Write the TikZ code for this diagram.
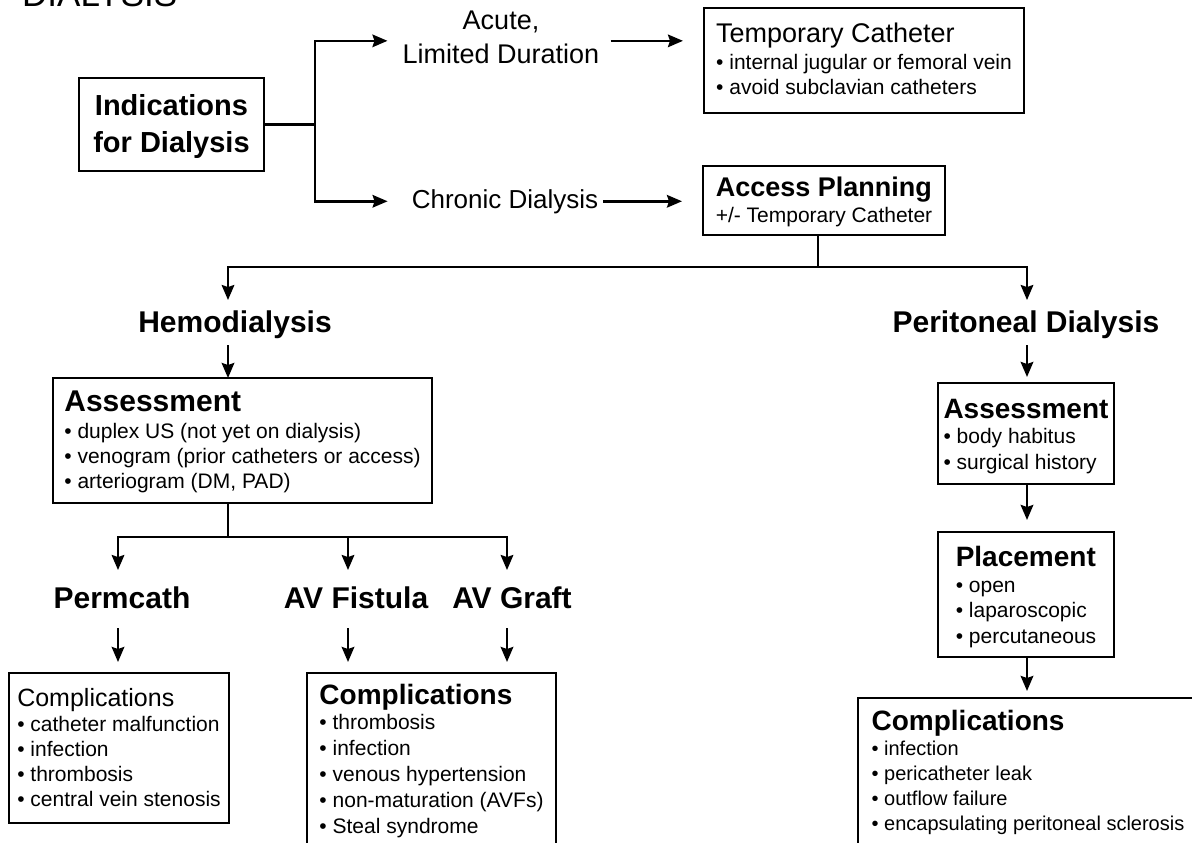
\documentclass[tikz,border=0pt]{standalone}
\usepackage{fontspec}
\setmainfont{Liberation Sans}
\usetikzlibrary{arrows.meta}

\begin{document}
\begin{tikzpicture}[x=1pt,y=-1pt,
  conn/.style={line width=2.7pt},
  arr/.style={line width=2.6pt,-{Stealth[length=15pt,width=12.5pt,inset=2pt]}},
  box/.style={draw,line width=1.8pt,anchor=north west,inner sep=0pt,outer sep=0pt,
    align=left,font=\fontsize{21}{25}\selectfont},
  lbl/.style={anchor=base,inner sep=0pt,font=\fontsize{30}{36}\selectfont\bfseries}]
\useasboundingbox (0,0) rectangle (1192,843);
\clip (0,0) rectangle (1192,843);

\node[anchor=base west,inner sep=0pt,font=\fontsize{35}{42}\selectfont] (ttl) at (22,7) {DIALYSIS};

% top row
\node[box,align=center,minimum width=185pt,text height=74pt,text depth=19pt,
  font=\fontsize{29}{37}\selectfont\bfseries] (ind) at (79,78) {Indications\\for Dialysis};
\node[anchor=base,inner sep=0pt,align=center,font=\fontsize{27}{34}\selectfont] (acute) at (501,64) {Acute,\\Limited Duration};
\node[anchor=base,inner sep=0pt,font=\fontsize{26}{31}\selectfont] (chronic) at (505,208) {Chronic Dialysis};
\node[box,minimum width=320pt,text height=87pt,text depth=18pt] (tmp) at (704,8)
  {{\fontsize{27}{25}\selectfont Temporary Catheter}\\[2pt]
   \textbullet{} internal jugular or femoral vein\\
   \textbullet{} avoid subclavian catheters};
\node[box,minimum width=242pt,text height=56pt,text depth=13pt] (access) at (703,166)
  {{\fontsize{27}{25}\selectfont\bfseries Access Planning}\\[1pt]
   +/- Temporary Catheter};

% hemodialysis side
\node[lbl] (hd) at (235,332) {Hemodialysis};
\node[box,minimum width=379pt,text height=110pt,text depth=15pt] (hdass) at (53,378)
  {{\fontsize{30}{25}\selectfont\bfseries Assessment}\\[2pt]
   \textbullet{} duplex US (not yet on dialysis)\\
   \textbullet{} venogram (prior catheters or access)\\
   \textbullet{} arteriogram (DM, PAD)};
\node[lbl] (perm) at (122,608) {Permcath};
\node[lbl] (avf) at (356,608) {AV Fistula};
\node[lbl] (avg) at (512,608) {AV Graft};
\node[box,minimum width=220pt,text height=133pt,text depth=17pt] (pcomp) at (9,673)
  {{\fontsize{25}{25}\selectfont Complications}\\
   \textbullet{} catheter malfunction\\
   \textbullet{} infection\\
   \textbullet{} thrombosis\\
   \textbullet{} central vein stenosis};
\node[box,minimum width=249pt,text height=160pt,text depth=27pt,
  font=\fontsize{21}{25.8}\selectfont] (avcomp) at (307,673)
  {{\fontsize{28}{25}\selectfont\bfseries Complications}\\
   \textbullet{} thrombosis\\
   \textbullet{} infection\\
   \textbullet{} venous hypertension\\
   \textbullet{} non-maturation (AVFs)\\
   \textbullet{} Steal syndrome};

% peritoneal side
\node[lbl] (pd) at (1026,332) {Peritoneal Dialysis};
\node[box,minimum width=176pt,text height=86pt,text depth=15pt] (pdass) at (938,383)
  {{\fontsize{28}{25}\selectfont\bfseries Assessment}\\
   \textbullet{} body habitus\\[1pt]
   \textbullet{} surgical history};
\node[box,minimum width=176pt,text height=111pt,text depth=14pt,
  font=\fontsize{21}{25.5}\selectfont] (place) at (938,532)
  {{\fontsize{28}{25}\selectfont\bfseries Placement}\\
   \textbullet{} open\\
   \textbullet{} laparoscopic\\
   \textbullet{} percutaneous};
\node[box,minimum width=340pt,text height=132pt,text depth=70pt,
  font=\fontsize{20}{25}\selectfont] (pdcomp) at (858,698)
  {{\fontsize{28}{25}\selectfont\bfseries Complications}\\
   \textbullet{} infection\\
   \textbullet{} pericatheter leak\\
   \textbullet{} outflow failure\\
   \textbullet{} encapsulating peritoneal sclerosis};

\path (ind.east) ++(51,0) coordinate (jn);
\path ([yshift=-3pt]acute.east) coordinate (acuteR);
\coordinate (split) at (818,267);
\coordinate (hdfork) at (228,267);
\coordinate (pdfork) at (1027,267);
\coordinate (hdsplit) at (228,537);
\coordinate (permfork) at (118,537);
\coordinate (avffork) at (348,537);
\coordinate (avgfork) at (507,537);

\draw[conn] (ind.east) -- (jn);
\draw[arr,shorten >=15pt] (jn) |- ([yshift=-3pt]acute.west);
\draw[arr,shorten >=24pt] (jn) |- (chronic.west);
\draw[arr,shorten <=11pt,shorten >=21pt] (acuteR) -- (acuteR -| tmp.west);
\draw[arr,shorten <=5pt,shorten >=21pt] (chronic.east) -- (chronic.east -| access.west);

\draw[conn] (access.south -| split) -- (split);
\draw[arr,shorten >=10pt] (split) -| (hdfork |- hd.north);
\draw[arr,shorten >=10pt] (split) -| (pdfork |- pd.north);

\draw[arr,shorten <=7pt] (hd.south -| hdfork) -- (hdass.north -| hdfork);
\draw[conn] (hdass.south -| hdsplit) -- (hdsplit);
\draw[arr,shorten >=16pt] (hdsplit) -| (permfork |- perm.north);
\draw[arr,shorten >=16pt] (hdsplit) -| (avgfork |- avg.north);
\draw[arr,shorten >=16pt] (avffork) -- (avffork |- avf.north);
\draw[arr,shorten <=20pt,shorten >=11pt] (perm.south -| permfork) -- (pcomp.north -| permfork);
\draw[arr,shorten <=20pt,shorten >=11pt] (avf.south -| avffork) -- (avcomp.north -| avffork);
\draw[arr,shorten <=20pt,shorten >=11pt] (avg.south -| avgfork) -- (avcomp.north -| avgfork);

\draw[arr,shorten <=7pt,shorten >=6pt] (pd.south -| pdfork) -- (pdass.north -| pdfork);
\draw[arr,shorten >=12pt] (pdass.south -| pdfork) -- (place.north -| pdfork);
\draw[arr,shorten >=7pt] (place.south -| pdfork) -- (pdcomp.north -| pdfork);
\end{tikzpicture}
\end{document}
